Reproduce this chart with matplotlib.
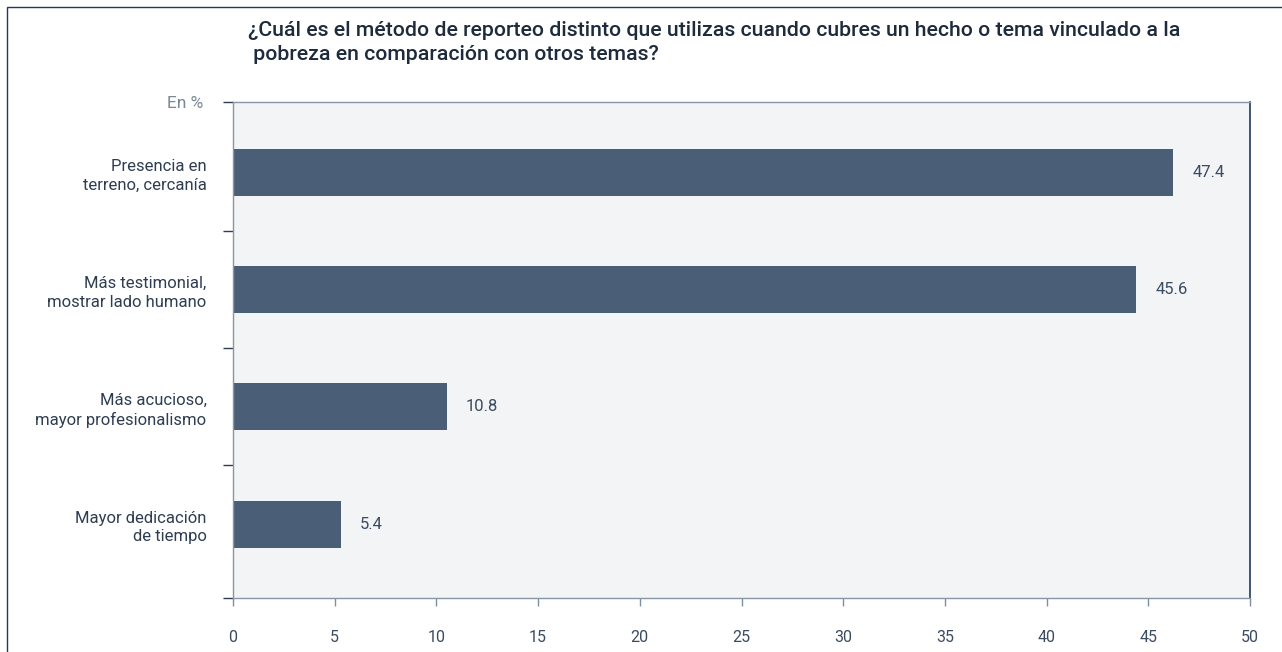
import matplotlib
matplotlib.use("Agg")
import matplotlib.pyplot as plt
from matplotlib.patches import Rectangle

plt.rcParams['font.family'] = ['Roboto', 'DejaVu Sans']

# ---- data ----
categories = [
    "Presencia en\nterreno, cercanía",
    "Más testimonial,\nmostrar lado humano",
    "Más acucioso,\nmayor profesionalismo",
    "Mayor dedicación\nde tiempo",
]
bar_values = [46.2, 44.4, 10.5, 5.3]          # drawn bar lengths
value_labels = ["47.4", "45.6", "10.8", "5.4"]  # printed labels
x_ticks = [0, 5, 10, 15, 20, 25, 30, 35, 40, 45, 50]
title = ("¿Cuál es el método de reporteo distinto que utilizas cuando cubres un hecho o tema vinculado a la\n"
         " pobreza en comparación con otros temas?")

W, H = 1282, 652
fig = plt.figure(figsize=(W / 100, H / 100), dpi=100)
fig.patch.set_facecolor("white")

# outer frame (cut by the image edges)
frame = Rectangle((7 / W, -0.1), 1.2, 1 - 7 / H + 0.1, transform=fig.transFigure,
                  fill=False, edgecolor="#1f3a5c", linewidth=1.0)
fig.add_artist(frame)

ax = fig.add_axes([233 / W, 1 - 598 / H, (1250 - 233) / W, (598 - 102) / H])
ax.set_facecolor("#f3f4f6")

bar_color = "#4a5e78"
ypos = list(range(len(categories)))
ax.barh(ypos, bar_values, height=0.4, color=bar_color, zorder=2)

for y, v, lab in zip(ypos, bar_values, value_labels):
    ax.annotate(lab, (v, y), xytext=(14, 0), textcoords="offset points",
                va="center", ha="left", fontsize=12, color="#3a4b62")

ax.set_xlim(0, 50)
ax.set_ylim(3.63, -0.6)
ax.set_xticks(x_ticks)
ax.set_xticklabels([str(t) for t in x_ticks], fontsize=11.5, color="#3a4b62")
ax.tick_params(axis="x", direction="out", length=6, width=1, color="#7f8fa0", pad=17)

ax.set_yticks(ypos)
ax.set_yticklabels(categories, fontsize=12, color="#2e3d52", linespacing=1.3)
ax.tick_params(axis="y", length=0, pad=19)
ax.set_yticks([-0.6, 0.5, 1.5, 2.5, 3.63], minor=True)
ax.tick_params(axis="y", which="minor", direction="out", length=7, width=1, color="#2e3d52")

for s in ["left", "bottom", "top"]:
    ax.spines[s].set_color("#8797a8")
    ax.spines[s].set_linewidth(1.0)
ax.spines["right"].set_color("#1f3a5c")
ax.spines["right"].set_linewidth(1.2)

fig.text(248 / W, 1 - 21 / H, title, ha="left", va="top", fontsize=15.3,
         fontweight="medium", color="#1e2b3c", linespacing=1.3)
fig.text(203 / W, 1 - 103 / H, "En %", ha="right", va="center", fontsize=12.5,
         color="#7a8797")

fig.savefig("out.png", dpi=100, facecolor="white")
